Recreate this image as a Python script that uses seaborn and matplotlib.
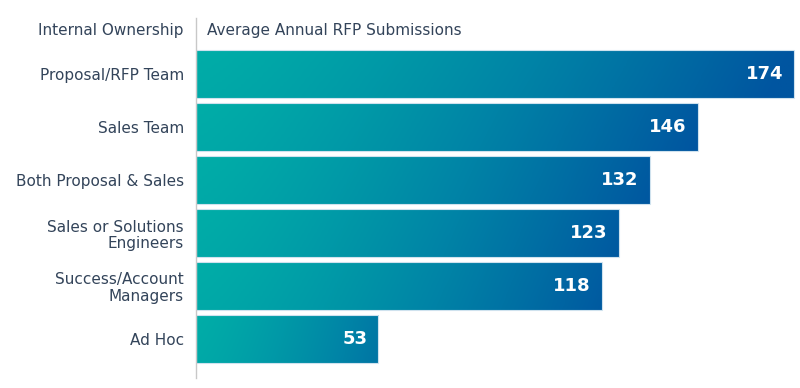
import numpy as np
import pandas as pd
import seaborn as sns
import matplotlib
matplotlib.use("Agg")
import matplotlib.pyplot as plt
from matplotlib.colors import LinearSegmentedColormap

categories = ["Proposal/RFP Team", "Sales Team", "Both Proposal & Sales",
              "Sales or Solutions\nEngineers", "Success/Account\nManagers", "Ad Hoc"]
values = [174, 146, 132, 123, 118, 53]
header_left = "Internal Ownership"
header_right = "Average Annual RFP Submissions"

sns.set_theme(style="white")
plt.rcParams["font.family"] = ["DejaVu Sans"]
TEXT = "#33445a"

df = pd.DataFrame({"owner": categories, "rfps": values})

fig = plt.figure(figsize=(8, 3.88), dpi=100)
ax = fig.add_axes([196 / 800, 10 / 388, 604 / 800, 360 / 388])

sns.barplot(data=df, x="rfps", y="owner", orient="h", width=0.9,
            color="#0081a4", ax=ax)

cmap = LinearSegmentedColormap.from_list("tb", ["#00ada8", "#0082a6", "#0055a0"])
vmax = max(values)
vmin = min(values)
for patch, v in zip(ax.patches, values):
    x0, y0 = patch.get_x(), patch.get_y()
    w, h = patch.get_width(), patch.get_height()
    t_end = 0.6 + 0.4 * ((v - vmin) / (vmax - vmin)) ** 0.5
    u = np.linspace(0, 1, 400)
    vv = np.linspace(0, 1, 20)[:, None]
    t = t_end * u[None, :] ** 1.3 + 0.05 * vv
    im = ax.imshow(np.clip(t, 0, 1), extent=[x0, x0 + w, y0 + h, y0], cmap=cmap,
                   vmin=0, vmax=1, aspect="auto", interpolation="bilinear", zorder=1)
    im.set_clip_path(patch)
    patch.set_facecolor("none")
    patch.set_edgecolor("#cfe2ee")
    patch.set_linewidth(0.8)
    patch.set_zorder(2)

for i, v in enumerate(values):
    ax.annotate(str(v), xy=(v, i), xytext=(-11, 0), textcoords="offset pixels",
                ha="right", va="center", color="white", fontsize=13,
                fontweight="heavy", zorder=3)

ax.set_xlim(0, 604 / (598 / 174))
ax.set_ylim(5.736, -1.057)
ax.set_xlabel("")
ax.set_ylabel("")
ax.set_xticks([])
ax.tick_params(axis="y", length=0, pad=8.6, labelsize=11, labelcolor=TEXT)
for lbl in ax.get_yticklabels():
    lbl.set_linespacing(1.1)
for s in ["top", "right", "bottom"]:
    ax.spines[s].set_visible(False)
ax.spines["left"].set_color("#c8c8c8")
ax.spines["left"].set_linewidth(1)

fig.text(184 / 800, 1 - 31 / 388, header_left, ha="right", va="center",
         fontsize=11, color=TEXT)
fig.text(207 / 800, 1 - 31 / 388, header_right, ha="left", va="center",
         fontsize=11, color=TEXT)

fig.savefig("out.png", dpi=100, facecolor="white")
